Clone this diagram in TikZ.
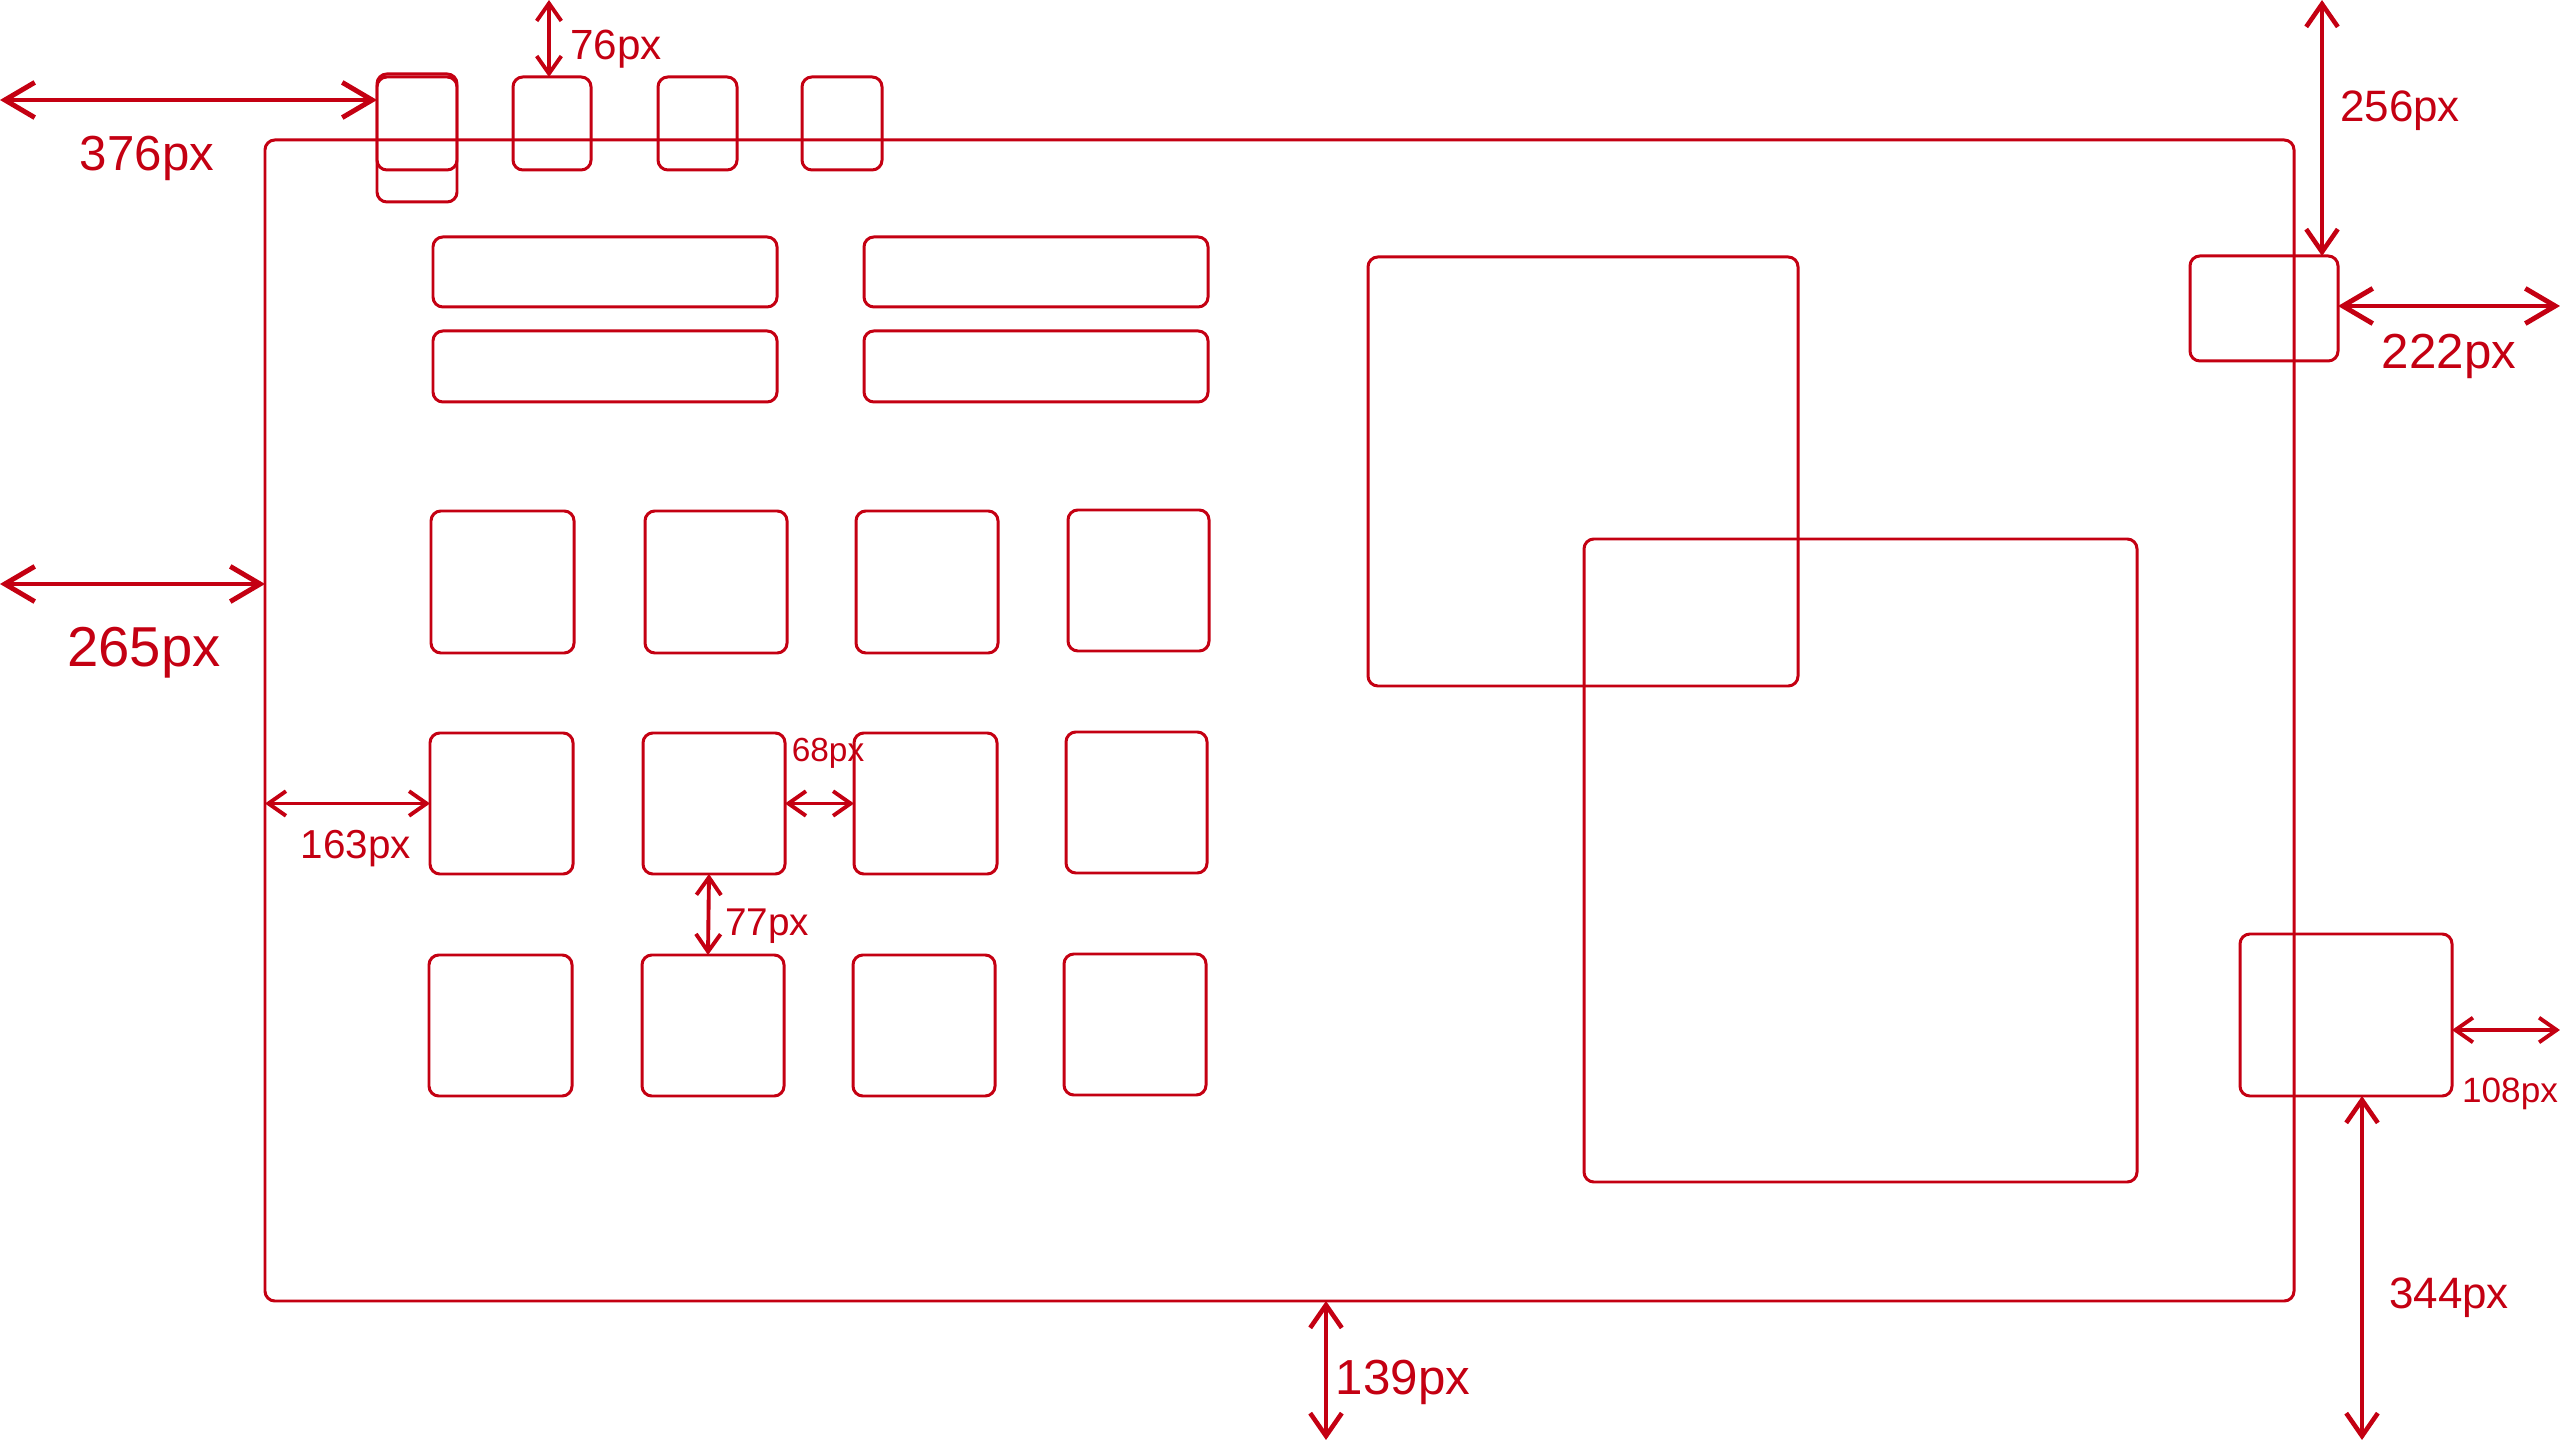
\documentclass[tikz,border=0pt]{standalone}
\usepackage{fontspec}
\setmainfont{Liberation Sans}
\usetikzlibrary{arrows.meta}
\definecolor{ink}{RGB}{196,0,18}
\newcommand{\bx}[6][]{\node[box,#1,minimum width={(#4-#2)*0.01cm},minimum height={(#6-#3)*0.01cm}] (#5) at ({(#2+#4)/2},{(#3+#6)/2}) {};}
\begin{document}
\begin{tikzpicture}[x=0.01cm,y=-0.01cm,
  box/.style={draw=ink,line width=0.85pt,rounded corners=2.8pt,inner sep=0pt,outer sep=0pt,rectangle},
  dimbig/.style={draw=ink,line width=1.4pt,line cap=round,{Straight Barb[length=8.5pt,width=10pt]}-{Straight Barb[length=8.5pt,width=10pt]}},
  dimmid/.style={draw=ink,line width=1.3pt,line cap=round,{Straight Barb[length=6.5pt,width=9pt]}-{Straight Barb[length=6.5pt,width=9pt]}},
  dimsmall/.style={draw=ink,line width=1.1pt,line cap=round,{Straight Barb[length=5pt,width=7pt]}-{Straight Barb[length=5pt,width=7pt]}},
  lbl/.style={text=ink,inner sep=0pt}]
\useasboundingbox (0,0) rectangle (2560,1440);
% main frame
\bx{265}{140}{2294}{frame}{1301}
% top small boxes
\bx{377}{77}{457}{t1}{170}
\bx{377}{74}{457}{t1b}{202}
\bx{513}{77}{591}{t2}{170}
\bx{658}{77}{737}{t3}{170}
\bx{802}{77}{882}{t4}{170}
% wide boxes
\bx{433}{237}{777}{w11}{307}
\bx{864}{237}{1208}{w12}{307}
\bx{433}{331}{777}{w21}{402}
\bx{864}{331}{1208}{w22}{402}
% grid
\bx{431}{511}{574}{g11}{653}
\bx{645}{511}{787}{g12}{653}
\bx{856}{511}{998}{g13}{653}
\bx{1068}{510}{1209}{g14}{651}
\bx{430}{733}{573}{g21}{874}
\bx{643}{733}{785}{g22}{874}
\bx{854}{733}{997}{g23}{874}
\bx{1066}{732}{1207}{g24}{873}
\bx{429}{955}{572}{g31}{1096}
\bx{642}{955}{784}{g32}{1096}
\bx{853}{955}{995}{g33}{1096}
\bx{1064}{954}{1206}{g34}{1095}
% large overlapping boxes
\bx{1368}{257}{1798}{big1}{686}
\bx{1584}{539}{2137}{big2}{1182}
% right boxes
\bx{2190}{256}{2338}{rs}{361}
\bx{2240}{934}{2452}{rl}{1096}
% free ends
\coordinate (e376) at (0,100);
\coordinate (e76) at (549,0);
\coordinate (e256) at (2322,0);
\coordinate (e222) at (2560,306);
\coordinate (e265) at (0,584);
\coordinate (e108) at (2560,1030);
\coordinate (e344) at (2362,1440);
\coordinate (e139) at (1326,1440);
% dimension arrows
\draw[dimbig] (e376) -- (e376 -| t1.west);
\draw[dimsmall] (e76) -- (e76 |- t2.north);
\draw[dimmid] (e256) -- (e256 |- rs.north);
\draw[dimbig] (rs.east |- e222) -- (e222);
\draw[dimbig] (e265) -- (e265 -| frame.west);
\draw[dimsmall] (frame.west |- g21.west) -- (g21.west);
\draw[dimsmall] (g22.east) -- (g23.west);
\draw[dimsmall] ([xshift=-0.05cm]g22.south) -- ([xshift=-0.05cm]g32.north);
\draw[dimsmall] (rl.east |- e108) -- (e108);
\draw[dimmid] (e344 |- rl.south) -- (e344);
\draw[dimmid] (e139 |- frame.south) -- (e139);
% labels
\node[lbl,font=\fontsize{14}{16}\selectfont] (l376) at (147,158) {376px};
\node[lbl,font=\fontsize{12}{14}\selectfont] (l76) at (616,49) {76px};
\node[lbl,font=\fontsize{12.5}{14}\selectfont] (l256) at (2400,111) {256px};
\node[lbl,font=\fontsize{14}{16}\selectfont] (l222) at (2449,356) {222px};
\node[lbl,font=\fontsize{16}{18}\selectfont] (l265) at (144,653) {265px};
\node[lbl,font=\fontsize{11.5}{13}\selectfont] (l163) at (356,849) {163px};
\node[lbl,font=\fontsize{9.5}{11}\selectfont] (l68) at (828,753) {68px};
\node[lbl,font=\fontsize{11}{12}\selectfont] (l77) at (767,926) {77px};
\node[lbl,font=\fontsize{10}{11}\selectfont] (l108) at (2510,1094) {108px};
\node[lbl,font=\fontsize{12.5}{14}\selectfont] (l344) at (2449,1298) {344px};
\node[lbl,font=\fontsize{14}{16}\selectfont] (l139) at (1403,1382) {139px};
\end{tikzpicture}
\end{document}
